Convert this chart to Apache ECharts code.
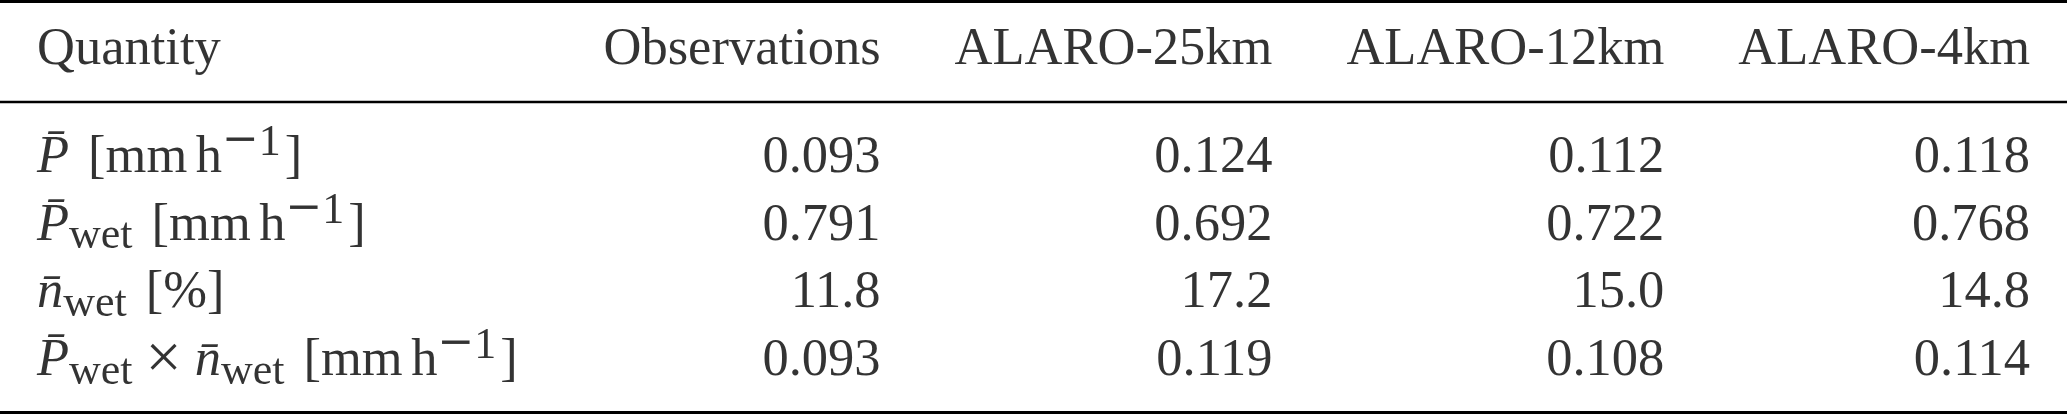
<!DOCTYPE html>
<html>
<head>
<meta charset="utf-8">
<script src="https://cdn.jsdelivr.net/npm/echarts@6/dist/echarts.min.js"></script>
<style>
html,body{margin:0;padding:0;background:#fff;}
#c{width:2067px;height:414px;}
</style>
</head>
<body>
<div id="c"></div>
<script>
// ---------- data ----------
const columns = ['Quantity', 'Observations', 'ALARO-25km', 'ALARO-12km', 'ALARO-4km'];
const quantities = [
  '{it|P\u0304}{sp| }[mm{th| }h{supm|\u2212}{sup|1}]',
  '{it|P\u0304}{sub|wet}{sp| }[mm{th| }h{supm|\u2212}{sup|1}]',
  '{it|n\u0304}{sub|wet}{sp| }[%]',
  '{it|P\u0304}{sub|wet}{bin|\u00d7}{it|n\u0304}{sub|wet}{sp| }[mm{th| }h{supm|\u2212}{sup|1}]'
];
const decimals = [3, 3, 1, 3];
const observations = [0.093, 0.791, 11.8, 0.093];
const alaro25km = [0.124, 0.692, 17.2, 0.119];
const alaro12km = [0.112, 0.722, 15.0, 0.108];
const alaro4km = [0.118, 0.768, 14.8, 0.114];
const columnValues = [observations, alaro25km, alaro12km, alaro4km];

// ---------- layout ----------
const FONT = 'Liberation Serif';
const FS = 52.5;
const SFS = 44;            // script size
const PAD = 37;            // half column separation
const HEADER_ROW = -1.596; // header row position in row units
const MIDRULE = -0.832;
const Y_MIN = -2.320, Y_MAX = 3.754;

const dom = document.getElementById('c');
const W = dom.clientWidth;
const ctx = document.createElement('canvas').getContext('2d');
ctx.font = FS + 'px "' + FONT + '"';
const measure = t => ctx.measureText(t).width;

const rights = [];
let r = W - PAD;
for (let c = columns.length - 1; c >= 1; c--) {
  rights[c] = r;
  r = r - measure(columns[c]) - 2 * PAD;
}
const left0 = PAD;

const baseLabel = {
  show: true,
  color: '#000',
  fontFamily: FONT,
  fontSize: FS,
  lineHeight: FS,
  distance: 0
};

const richStyles = {
  it: { fontStyle: 'italic', fontFamily: FONT, fontSize: FS, lineHeight: FS, color: '#000' },
  sup: { fontFamily: FONT, fontSize: SFS, lineHeight: SFS, padding: [0, 4, 29.2, 0], color: '#000' },
  supm: { fontFamily: 'DejaVu Serif', fontSize: SFS, lineHeight: SFS, padding: [0, 0, 33, 0], color: '#000' },
  sub: { fontFamily: FONT, fontSize: SFS, lineHeight: SFS, padding: [21.8, 0, 0, 0], color: '#000' },
  bin: { fontFamily: FONT, fontSize: 64, lineHeight: 64, padding: [0, 13, 0, 13], color: '#000' },
  sp: { fontFamily: FONT, fontSize: FS, lineHeight: FS, width: 19 },
  th: { fontFamily: FONT, fontSize: FS, lineHeight: FS, width: 8.5 }
};

const common = {
  type: 'scatter',
  symbolSize: 0,
  silent: true,
  itemStyle: { color: 'transparent' },
  emphasis: { disabled: true }
};

const series = [];

// header row
series.push(Object.assign({}, common, {
  name: 'header',
  data: columns.map((name, c) => ({
    name: name,
    value: [c === 0 ? left0 : rights[c], HEADER_ROW],
    label: Object.assign({}, baseLabel, { position: c === 0 ? 'right' : 'left' })
  })),
  label: Object.assign({}, baseLabel, { formatter: p => p.name })
}));

// quantity column
series.push(Object.assign({}, common, {
  name: 'Quantity',
  data: quantities.map((q, i) => ({ name: q, value: [left0, i] })),
  label: Object.assign({}, baseLabel, { position: 'right', formatter: p => p.name, rich: richStyles }),
  markLine: {
    silent: true,
    symbol: ['none', 'none'],
    label: { show: false },
    lineStyle: { color: '#000', width: 2.4, type: 'solid' },
    emphasis: { disabled: true },
    data: [{ yAxis: MIDRULE }]
  }
}));

// numeric columns
columnValues.forEach((vals, k) => {
  const c = k + 1;
  series.push(Object.assign({}, common, {
    name: columns[c],
    data: vals.map((v, i) => ({ name: v.toFixed(decimals[i]), value: [rights[c], i] })),
    label: Object.assign({}, baseLabel, { position: 'left', formatter: p => p.name })
  }));
});

const axisBase = {
  type: 'value', min: 0, max: W,
  axisTick: { show: false }, axisLabel: { show: false }, splitLine: { show: false }
};

const chart = echarts.init(dom, null, { renderer: 'canvas' });
chart.setOption({
  animation: false,
  backgroundColor: '#fff',
  grid: { left: 0, right: 0, top: 1.3, bottom: 1.7, containLabel: false },
  xAxis: [
    Object.assign({}, axisBase, { position: 'top', axisLine: { show: true, onZero: false, lineStyle: { color: '#000', width: 2.8 } } }),
    Object.assign({}, axisBase, { position: 'bottom', axisLine: { show: true, onZero: false, lineStyle: { color: '#000', width: 3.2 } } })
  ],
  yAxis: { type: 'value', inverse: true, min: Y_MIN, max: Y_MAX, show: false },
  series: series
});
</script>
</body>
</html>
